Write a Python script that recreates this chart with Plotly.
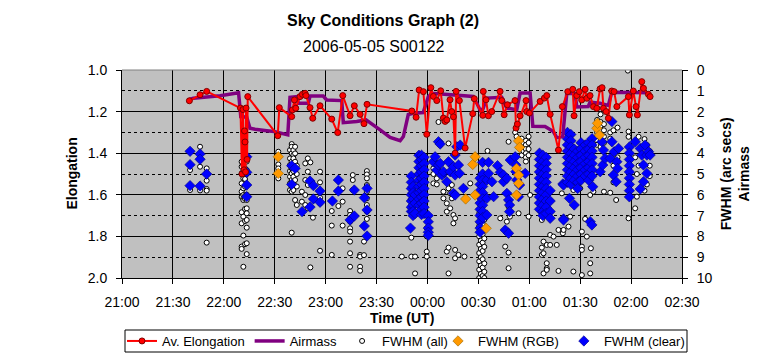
import plotly.graph_objects as go

# ---------------- data (time = minutes after 21:00 UT) ----------------
tick_minutes = [0, 30, 60, 90, 120, 150, 180, 210, 240, 270, 300, 330]
tick_labels = ["21:00", "21:30", "22:00", "22:30", "23:00", "23:30",
               "00:00", "00:30", "01:00", "01:30", "02:00", "02:30"]

elong_t = [39.7, 46.0, 49.9, 69.8, 70.7, 71.3, 71.9, 72.2, 72.5, 72.8, 73.1, 73.7, 74.1,
           91.8, 92.7, 100.0, 100.4, 101.6, 102.4, 104.9, 106.3, 107.9, 108.4, 110.8,
           112.4, 116.7, 123.6, 127.1, 130.1, 134.4, 136.9, 140.3, 142.6, 144.4,
           170.8, 173.3, 175.1, 177.6, 179.6, 182.0, 183.5, 185.5, 187.8, 189.4, 190.4,
           191.4, 193.3, 194.3, 195.3, 196.3, 196.9, 198.8, 202.2, 206.7, 207.6, 212.6,
           212.9, 214.5, 215.9, 217.9, 222.8, 223.8, 225.2, 227.1, 231.6, 232.2, 233.0,
           234.6, 238.1, 238.5, 240.1, 246.4, 248.9, 250.3, 252.3, 257.2, 259.5, 262.7,
           265.6, 266.4, 268.0, 269.5, 270.9, 272.9, 273.9, 275.8, 277.8, 279.8, 281.7,
           282.9, 283.7, 285.3, 286.6, 288.6, 290.0, 291.6, 298.4, 299.0, 301.3, 302.9,
           303.7, 306.3, 307.3, 310.2, 311.2]
elong_v = [1.148, 1.119, 1.103, 1.183, 1.50, 1.19, 1.48, 1.293, 1.346, 1.49, 1.183, 1.43, 1.128,
           1.316, 1.181, 1.224, 1.192, 1.144, 1.184, 1.128, 1.117, 1.112, 1.123, 1.181,
           1.232, 1.172, 1.236, 1.301, 1.123, 1.22, 1.172, 1.213, 1.258, 1.165,
           1.197, 1.227, 1.096, 1.104, 1.309, 1.085, 1.127, 1.147, 1.10, 1.231, 1.247,
           1.24, 1.143, 1.2, 1.225, 1.40, 1.103, 1.147, 1.375, 1.21, 1.138, 1.218,
           1.103, 1.143, 1.22, 1.2, 1.103, 1.147, 1.215, 1.167, 1.147, 1.279, 1.26,
           1.22, 1.147, 1.2, 1.207, 1.151, 1.135, 1.123, 1.213, 1.385, 1.176, 1.104,
           1.093, 1.22, 1.123, 1.104, 1.144, 1.093, 1.136, 1.123, 1.176, 1.184, 1.091,
           1.085, 1.184, 1.20, 1.232, 1.101, 1.104, 1.176, 1.128, 1.216, 1.101, 1.176,
           1.216, 1.056, 1.088, 1.117, 1.128]

airmass_t = [39.7, 42.0, 57.8, 67.6, 68.7, 70.0, 73.5, 75.4, 78.4, 85.3, 89.6, 97.7, 99.0,
             103.0, 103.9, 109.8, 110.8, 118.6, 120.6, 129.5, 130.4, 138.3, 143.8, 152.1,
             158.0, 163.9, 165.8, 168.7, 171.7, 177.5, 180.5, 182.5, 191.4, 207.0, 209.0,
             211.9, 214.9, 223.8, 226.7, 232.6, 234.6, 240.5, 242.1, 249.3, 254.2, 256.2,
             259.7, 262.1, 267.0, 268.0, 274.7, 275.8, 281.7, 286.6, 288.6, 311.2]
airmass_v = [1.41, 1.36, 1.24, 1.09, 1.10, 2.24, 2.27, 2.8, 2.85, 2.92, 2.96, 3.12, 1.31,
             1.28, 1.6, 1.6, 1.25, 1.25, 1.44, 1.47, 2.53, 2.48, 2.4, 2.88,
             3.24, 3.4, 3.2, 2.14, 2.08, 2.05, 1.28, 1.12, 1.19, 1.27, 1.59,
             2.07, 1.35, 1.31, 1.83, 1.91, 1.11, 1.11, 2.71, 2.72, 2.96, 3.25,
             3.2, 1.12, 1.14, 1.78, 1.76, 1.55, 1.6, 1.70, 1.07, 1.09]

fwhm_all_groups = [
    (40.1, [3.9, 4.55, 4.81, 5.56, 5.77]),
    (46.0, [3.69, 4.04, 4.29, 4.65, 5.58, 5.79]),
    (49.9, [4.73, 4.94, 5.0, 5.32, 5.72, 5.8, 8.3]),
    (70.5, [4.41, 4.65, 4.97, 5.45, 5.85, 6.1, 6.84, 7.37, 8.49, 8.6]),
    (71.5, [4.57, 4.89, 5.21, 5.69, 6.01, 6.17, 6.25, 7.05, 7.96, 9.46]),
    (72.5, [4.73, 5.05, 5.24, 5.61, 6.05, 6.12, 6.2, 6.68, 7.26, 8.37]),
    (73.5, [4.4, 4.81, 5.0, 5.5, 6.0, 6.15, 6.25, 6.65, 6.89, 7.21, 7.58, 8.33, 8.85]),
    (92.1, [3.93, 4.17, 4.54, 4.73, 4.97, 5.21]),
    (99.0, [3.85, 4.25, 4.57, 4.86, 5.13, 5.45, 5.77]),
    (100.0, [3.56, 3.69, 4.01, 4.41, 4.73, 4.97, 5.29, 5.61, 5.85, 7.82]),
    (101.0, [3.85, 4.09, 4.25, 4.57, 4.86, 5.13, 5.45, 5.77]),
    (102.0, [3.69, 4.01, 4.41, 4.73, 5.29, 6.25]),
    (103.0, [4.6, 5.0, 5.6, 6.49]),
    (106.0, [5.85, 6.33]),
    (108.0, [4.49, 5.29, 6.01, 6.49]),
    (109.5, [4.25, 4.89, 5.53, 6.65]),
    (111.0, [4.44, 5.34, 6.59, 9.49]),
    (112.5, [5.56, 6.2, 7.1]),
    (116.7, [4.89, 5.4, 5.82, 6.14, 6.36, 6.41, 8.69]),
    (123.6, [6.3, 6.78, 7.48, 8.89]),
    (127.5, [5.29, 5.82, 6.54]),
    (130.0, [5.69, 6.33, 7.48]),
    (134.4, [6.78, 6.97, 7.21, 7.29, 7.61, 7.77, 8.25, 8.81, 9.46]),
    (136.0, [5.05, 5.29, 5.77, 7.02]),
    (140.3, [8.89, 8.97, 9.46, 9.65]),
    (142.6, [6.14, 7.5, 8.25, 8.9]),
    (144.3, [4.86, 5.02, 5.21, 5.53, 5.69, 5.85, 6.17, 6.49, 6.73, 6.81, 7.16, 7.98]),
    (164.9, [8.97]),
    (170.5, [5.1, 5.4, 5.7, 6.0, 6.3, 6.6, 6.8, 8.06, 8.97]),
    (172.7, [6.0, 6.4, 6.9, 8.97, 9.78]),
    (175.0, [4.1, 4.4, 4.7, 5.0, 5.3, 5.6, 5.9, 6.2, 6.5]),
    (177.0, [4.1, 4.6, 5.2, 5.8, 6.4, 6.95]),
    (179.6, [7.0, 7.6, 8.0, 8.73, 8.97]),
    (183.5, [4.41, 4.73, 5.0, 5.45]),
    (185.5, [4.81, 5.21, 5.5]),
    (186.5, [2.5, 3.45, 4.57]),
    (187.5, [3.56, 3.61, 4.49]),
    (189.4, [4.89, 5.05, 5.85, 6.17]),
    (191.4, [5.37, 6.41, 6.81, 8.73]),
    (192.4, [3.53, 4.41, 5.69, 8.54, 9.78]),
    (193.4, [4.89, 5.93, 6.65]),
    (194.4, [5.53, 6.17]),
    (195.3, [4.65, 5.93, 6.97, 7.37]),
    (196.3, [4.09, 5.05, 6.01, 7.13, 8.65, 9.05]),
    (198.3, [4.57, 4.97, 8.89]),
    (199.3, [3.61, 3.65]),
    (201.8, [5.69, 8.97]),
    (205.2, [5.45]),
    (210.5, [6.9, 7.5, 8.0, 8.4, 8.8, 9.2, 9.6, 10.0]),
    (211.5, [5.05, 7.2, 7.8, 8.2, 8.6, 9.0, 9.4, 9.8]),
    (212.5, [6.9, 7.4, 7.9, 8.3, 8.7, 9.1, 9.5, 9.9]),
    (213.5, [7.2, 7.7, 8.1, 8.5, 9.3, 9.7, 10.0]),
    (215.4, [3.89, 5.29, 6.97]),
    (221.3, [4.6]),
    (222.9, [4.92, 7.13]),
    (224.8, [5.37]),
    (225.8, [7.69, 8.49]),
    (226.8, [5.93, 7.29]),
    (227.8, [3.45, 6.25, 6.57, 7.85, 8.78, 9.53]),
    (228.6, [4.33, 6.81, 7.05]),
    (231.7, [3.0, 4.17]),
    (232.5, [3.2, 4.57, 5.29]),
    (233.7, [3.4, 6.09, 6.89]),
    (235.5, [3.3, 3.7, 4.1]),
    (236.6, [3.5, 3.9, 4.97]),
    (238.0, [3.4, 3.6, 3.8, 4.0, 4.2, 4.4]),
    (239.6, [3.2, 3.5, 3.8, 4.1, 7.05]),
    (240.5, [6.01]),
    (246.0, [4.0, 4.6, 5.2, 5.8, 6.4]),
    (247.4, [7.21, 8.54, 8.89]),
    (248.4, [8.25, 8.81, 9.78]),
    (250.3, [8.41, 9.29, 9.53, 9.61]),
    (252.3, [7.93, 8.41]),
    (254.3, [8.01]),
    (256.2, [8.41]),
    (257.2, [7.69, 9.66]),
    (259.2, [5.93]),
    (259.8, [7.85]),
    (260.2, [7.69]),
    (263.1, [7.53]),
    (264.1, [7.05]),
    (266.0, [5.77, 9.69]),
    (270.0, [5.69]),
    (271.0, [7.77, 8.49, 8.65, 9.86]),
    (272.9, [7.16]),
    (273.9, [8.01]),
    (275.9, [6.01, 9.29, 9.78]),
    (276.3, [8.57]),
    (277.8, [5.85]),
    (280.0, [2.4, 2.6, 2.8, 3.0, 3.2, 3.4, 3.6]),
    (282.0, [2.13, 2.5, 2.7, 2.9, 3.1, 3.3, 3.5, 3.7]),
    (284.0, [2.6, 2.9, 3.2, 3.5, 5.85]),
    (287.7, [3.0, 3.3, 5.9]),
    (289.6, [2.9, 4.6, 5.4]),
    (291.2, [6.25]),
    (292.0, [2.77, 4.2]),
    (298.1, [0.03]),
    (298.5, [2.96, 3.21, 7.13]),
    (302.4, [4.2, 6.65]),
    (303.4, [5.0, 6.09]),
    (304.4, [3.21, 4.6]),
    (307.9, [3.32, 5.8]),
    (309.3, [3.61, 5.5]),
    (311.0, [3.9, 4.6, 5.1]),
]

fwhm_rgb_groups = [
    (92.1, [4.17, 4.97]),
    (202.5, [6.2]),
    (206.7, [4.54]),
    (208.1, [4.17, 6.01]),
    (214.6, [7.61]),
    (232.5, [4.73, 6.01]),
    (233.7, [3.41, 5.05, 5.45]),
    (234.3, [3.72]),
    (279.8, [2.8]),
    (280.2, [2.56]),
    (281.4, [3.13]),
]

fwhm_clear_groups = [
    (40.1, [3.91, 4.55, 5.56]),
    (46.0, [4.04, 4.29, 5.58]),
    (49.9, [5.0]),
    (73.5, [4.17, 4.92, 5.53, 6.09]),
    (100.0, [4.6, 5.5]),
    (102.0, [4.73]),
    (106.1, [6.81]),
    (110.8, [5.34, 6.59]),
    (112.8, [5.56, 6.2]),
    (116.7, [5.82, 6.36]),
    (124.0, [6.3]),
    (127.5, [5.29, 5.82]),
    (134.4, [7.21]),
    (136.9, [5.77, 7.02]),
    (142.8, [6.14, 7.5]),
    (144.4, [5.69, 6.73, 7.98]),
    (170.0, [7.6]),
    (170.5, [5.1, 5.4, 5.7, 6.0, 6.3, 6.6, 6.8]),
    (171.5, [5.6, 5.9, 6.2, 6.5, 6.8, 7.0]),
    (172.7, [6.0, 6.4, 6.9]),
    (175.0, [4.1, 4.4, 4.7, 5.0, 5.3, 5.6, 5.9, 6.2, 6.5]),
    (176.5, [4.1, 4.3, 4.6, 4.9, 5.2, 5.5, 5.8, 6.1, 6.4, 6.7, 6.95]),
    (178.0, [4.2, 4.5, 4.8, 5.1, 5.4, 5.7, 6.0, 6.3, 6.6, 6.9]),
    (180.5, [7.0, 7.3, 7.6, 7.8, 7.95]),
    (183.5, [4.41]),
    (184.5, [4.17]),
    (185.5, [4.81]),
    (186.5, [3.45, 4.57]),
    (187.5, [3.56, 4.49]),
    (188.5, [5.05]),
    (189.4, [4.89]),
    (191.4, [5.37]),
    (192.4, [4.41]),
    (193.4, [4.89]),
    (195.3, [4.65, 5.93]),
    (196.3, [4.09, 5.05, 6.01]),
    (197.3, [3.69]),
    (198.3, [4.57]),
    (198.9, [4.97]),
    (199.3, [3.61]),
    (201.2, [5.69]),
    (211.0, [5.2, 5.5, 5.8, 6.1, 6.4, 6.7, 7.0, 7.3, 7.6, 7.8]),
    (212.5, [4.44, 5.0, 5.3, 5.6, 5.9, 6.2, 6.5, 6.8, 7.1]),
    (215.0, [5.29, 6.17, 6.97]),
    (216.0, [4.44, 4.97]),
    (218.0, [5.37]),
    (219.0, [6.09]),
    (221.3, [4.6]),
    (222.9, [4.92]),
    (224.8, [5.05, 5.37]),
    (225.8, [7.69]),
    (226.8, [5.21, 5.93]),
    (227.8, [6.25, 7.85]),
    (228.4, [6.49, 6.81]),
    (228.8, [4.33]),
    (231.7, [4.17]),
    (232.1, [4.57, 4.89]),
    (232.7, [5.29]),
    (233.7, [6.09]),
    (234.3, [5.53]),
    (237.6, [4.97]),
    (246.0, [4.0, 4.3, 4.6, 4.9, 5.2, 5.5, 5.8, 6.1, 6.4, 6.7]),
    (248.0, [4.1, 4.4, 4.7, 5.0, 5.3, 5.6, 5.9, 6.2, 6.5, 6.8, 7.0]),
    (250.0, [4.2, 4.5, 4.8, 5.1, 5.4, 5.7, 6.0, 6.3, 6.6, 6.9]),
    (252.3, [5.8, 6.3, 6.8, 7.13]),
    (259.8, [5.48]),
    (260.2, [5.53, 7.16, 7.21]),
    (262.5, [3.0, 3.3, 3.6, 3.9, 4.2, 4.5, 4.8, 5.1, 5.4]),
    (263.7, [6.17]),
    (264.5, [3.1, 3.4, 3.7, 4.0, 4.3, 4.6, 4.9, 5.2, 5.5]),
    (266.5, [3.8, 4.1, 4.4, 4.7, 5.0, 5.3, 6.49]),
    (268.5, [3.9, 4.2, 4.5, 4.8, 5.1, 5.4, 5.7]),
    (270.5, [3.5, 3.8, 4.1, 4.4, 4.7, 5.0, 5.3]),
    (273.0, [3.6, 3.9, 4.2, 4.5, 4.8, 5.1]),
    (275.0, [3.5, 3.8, 4.1, 4.4, 4.7, 5.0, 5.3]),
    (275.9, [7.29]),
    (276.9, [7.45]),
    (277.0, [3.3, 3.6, 3.9, 4.2, 4.5, 4.8, 5.1]),
    (277.4, [5.61]),
    (281.8, [4.89]),
    (282.8, [3.45]),
    (283.3, [4.57]),
    (283.7, [3.85]),
    (284.7, [4.25]),
    (287.7, [4.25]),
    (288.7, [2.48, 3.45]),
    (289.6, [5.05]),
    (290.0, [3.93]),
    (291.2, [5.37]),
    (291.6, [4.41]),
    (292.0, [4.73]),
    (292.6, [3.77]),
    (299.0, [3.7, 4.0, 4.3, 4.6, 4.9, 5.2, 5.5, 5.8, 6.1]),
    (302.4, [3.45]),
    (305.4, [3.77, 5.72]),
    (306.3, [4.09]),
    (307.3, [4.57, 5.37]),
    (308.3, [3.61]),
    (309.3, [4.09, 4.97]),
    (310.3, [3.93]),
    (311.2, [4.09]),
]


def flatten(groups):
    xs, ys = [], []
    for t, vals in groups:
        for v in vals:
            xs.append(t)
            ys.append(v)
    return xs, ys


all_t, all_v = flatten(fwhm_all_groups)
rgb_t, rgb_v = flatten(fwhm_rgb_groups)
clr_t, clr_v = flatten(fwhm_clear_groups)

FONT = "Liberation Sans, Arial, sans-serif"
# The page body has an 8px margin, so the figure is sized/offset to fit the 765x358 window.
W, H = 757, 350

fig = go.Figure()

# base subplot (right axis: FWHM / Airmass)
fig.add_trace(go.Scatter(
    x=all_t, y=all_v, mode="markers", name="FWHM (all)", yaxis="y", legend="legend",
    legendrank=3,
    marker=dict(symbol="circle", size=5, color="white", line=dict(color="black", width=1)),
))
fig.add_trace(go.Scatter(
    x=clr_t, y=clr_v, mode="markers", name="FWHM (clear)", yaxis="y", legend="legend2",
    legendrank=5,
    marker=dict(symbol="diamond", size=8, color="#0000ff", line=dict(color="#000080", width=0.6)),
))
fig.add_trace(go.Scatter(
    x=rgb_t, y=rgb_v, mode="markers", name="FWHM (RGB)", yaxis="y", legend="legend2",
    legendrank=4,
    marker=dict(symbol="diamond", size=8, color="#ff9900", line=dict(color="#996600", width=0.6)),
))
fig.add_trace(go.Scatter(
    x=airmass_t, y=airmass_v, mode="lines", name="Airmass", yaxis="y", legend="legend",
    legendrank=2,
    line=dict(color="#800080", width=3.5),
))
# overlay subplot (left axis: Elongation) drawn on top
fig.add_trace(go.Scatter(
    x=elong_t, y=elong_v, mode="lines+markers", name="Av. Elongation", yaxis="y2",
    legend="legend", legendrank=1,
    line=dict(color="#ff0000", width=2),
    marker=dict(symbol="circle", size=6, color="#ff0000", line=dict(color="#800000", width=1)),
))

legend_common = dict(
    orientation="h", xref="container", yref="container", xanchor="left",
    y=1 - 333 / H, yanchor="middle",
    bgcolor="rgba(0,0,0,0)", borderwidth=0,
    font=dict(family=FONT, size=13, color="black"),
)

fig.update_layout(
    width=W, height=H,
    margin=dict(l=114, r=83, t=62, b=80, autoexpand=False),
    paper_bgcolor="white",
    plot_bgcolor="#c0c0c0",
    font=dict(family=FONT, size=14, color="black"),
    showlegend=True,
    legend=dict(legend_common, x=114 / W),
    legend2=dict(legend_common, x=430 / W),
    xaxis=dict(
        range=[0, 330], tickmode="array", tickvals=tick_minutes, ticktext=tick_labels,
        showgrid=True, gridcolor="black", gridwidth=1,
        showline=True, linecolor="black", linewidth=1,
        ticks="outside", ticklen=5, tickcolor="black",
        ticklabelstandoff=6, zeroline=False,
        tickfont=dict(size=14),
    ),
    yaxis=dict(
        side="right", range=[10, 0], tickmode="linear", tick0=0, dtick=1,
        showgrid=False, zeroline=False,
        showline=True, linecolor="black", linewidth=1,
        ticks="outside", ticklen=5, tickcolor="black",
        ticklabelstandoff=6, tickfont=dict(size=14),
    ),
    yaxis2=dict(
        overlaying="y", side="left", anchor="x", range=[2, 1],
        tickmode="linear", tick0=1, dtick=0.2, tickformat=".1f",
        showgrid=True, gridcolor="black", gridwidth=1,
        minor=dict(dtick=0.1, tick0=1, showgrid=True, gridcolor="black",
                   griddash="3px,3px", gridwidth=1, ticks=""),
        zeroline=False, showline=True, linecolor="black", linewidth=1,
        ticks="outside", ticklen=5, tickcolor="black",
        ticklabelstandoff=6, tickfont=dict(size=14),
    ),
    shapes=[
        dict(type="line", xref="paper", yref="paper", x0=0, x1=1, y0=1, y1=1,
             line=dict(color="#808080", width=1)),
        # legend frame
        dict(type="rect", xref="paper", yref="paper",
             x0=3 / 560, x1=565 / 560, y0=(270 - 322) / 208, y1=(270 - 344) / 208,
             line=dict(color="black", width=1), fillcolor="white", layer="below"),
    ],
    annotations=[
        dict(text="<b>Sky Conditions Graph (2)</b>", xref="paper", yref="paper",
             x=0.466, y=1.236, xanchor="center", yanchor="middle", showarrow=False,
             font=dict(size=16)),
        dict(text="2006-05-05 S00122", xref="paper", yref="paper",
             x=0.45, y=1.115, xanchor="center", yanchor="middle", showarrow=False,
             font=dict(size=16)),
        dict(text="<b>Time (UT)</b>", xref="paper", yref="paper",
             x=0.5, y=-0.192, xanchor="center", yanchor="middle", showarrow=False,
             font=dict(size=14)),
        dict(text="<b>Elongation</b>", xref="paper", yref="paper",
             x=-0.09, y=0.5, xanchor="center", yanchor="middle", showarrow=False,
             textangle=-90, font=dict(size=14)),
        dict(text="<b>FWHM (arc secs)<br>Airmass</b>", xref="paper", yref="paper",
             x=1.095, y=0.5, xanchor="center", yanchor="middle", showarrow=False,
             textangle=-90, font=dict(size=14)),
    ],
)

fig.write_html("out.html")
